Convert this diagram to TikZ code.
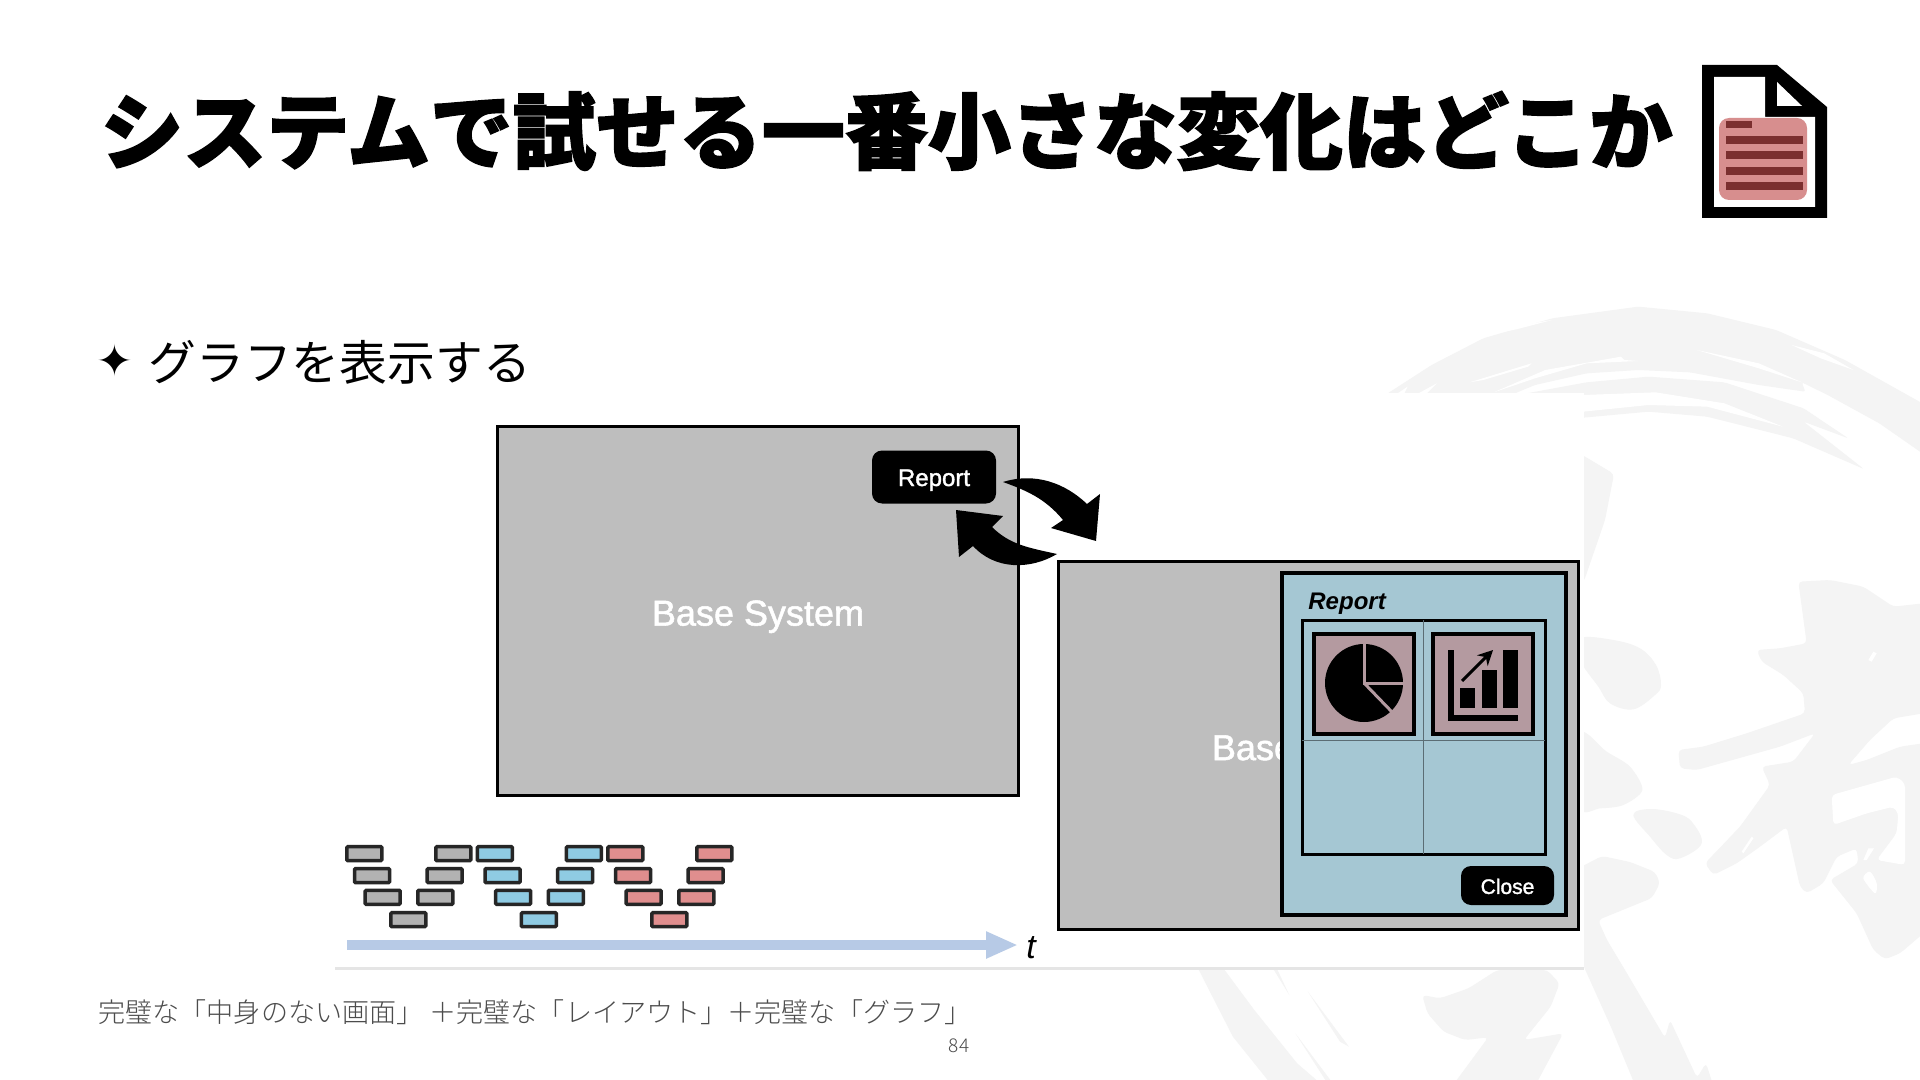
\documentclass[tikz,border=0pt]{standalone}
\usepackage{fontspec}
\usetikzlibrary{arrows.meta,calc,positioning}
\setmainfont{Liberation Sans}
\newfontfamily\uifont[FakeBold=1.5]{Liberation Sans}
\newfontfamily\jpblack[FakeBold=2]{Noto Sans CJK JP Black}
\newfontfamily\jplight{Noto Sans CJK JP Light}
\newfontfamily\jpnormal{Noto Sans CJK JP}
\newfontfamily\symfont{DejaVu Sans}
\definecolor{wmgray}{RGB}{244,244,244}
\definecolor{screengray}{RGB}{190,190,190}
\definecolor{panelblue}{RGB}{165,199,211}
\definecolor{tilerose}{RGB}{180,154,160}
\definecolor{tickgray}{RGB}{178,178,178}
\definecolor{tickblue}{RGB}{143,203,227}
\definecolor{tickred}{RGB}{224,142,142}
\definecolor{axisblue}{RGB}{183,202,230}
\definecolor{docred}{RGB}{215,142,142}
\definecolor{docdark}{RGB}{123,47,47}
\tikzset{
  rectbox/.style={draw=black,inner sep=0pt,outer sep=0pt,anchor=center},
  btn/.style={fill=black,text=white,rounded corners=5pt,inner sep=0pt,outer sep=0pt},
  tick/.style={draw=black!85,line width=1.75pt,rounded corners=.5pt,minimum width=17.5pt,minimum height=7pt,inner sep=0pt},
  tile/.style={rectbox,fill=tilerose,line width=1.75pt,minimum width=50pt,minimum height=50pt},
  wmark/.style={fill=wmgray,draw=none},
  streak/.style={fill=white,draw=none},
}
\begin{document}
\begin{tikzpicture}[x=.5pt,y=-.5pt]
  \useasboundingbox (0,0) rectangle (1920,1080);
  \fill[white] (0,0) rectangle (1920,1080);
  % watermark, ring at the top
  \begin{scope}[shift={(1380,295)},xscale=1/2.904,yscale=1/3]
    \fill[wmark,rounded corners=1pt] (15,300) -- (150,210) -- (300,130) -- (500,70) -- (750,35) -- (950,55) -- (1150,105) -- (1350,195) -- (1575,325) -- (1575,475) -- (1450,385) -- (1300,300) -- (1225,262) -- (1235,290) -- (1100,270) -- (900,232) -- (750,225) -- (600,235) -- (450,270) -- (380,300) -- cycle;
    \fill[wmark,rounded corners=1pt] (400,300) -- (600,262) -- (780,245) -- (1000,262) -- (1230,340) -- (1360,430) -- (1230,380) -- (1405,522) -- (1200,430) -- (950,365) -- (780,350) -- (590,368) -- (400,380) -- cycle;
    \fill[streak] (590,300) -- (800,292) -- (1000,325) -- (1170,395) -- (950,335) -- (780,330) -- (590,350) -- cycle;
    \fill[streak] (270,130) -- (400,92) -- (500,75) -- (400,102) -- cycle;
    \fill[streak] (260,262) -- (440,205) -- (430,215) -- (300,255) -- cycle;
    \fill[streak] (330,292) -- (480,225) -- (700,185) -- (710,195) -- (750,198) -- (600,205) -- (450,250) -- cycle;
    \fill[streak] (920,165) -- (1100,205) -- (1225,262) -- (1100,220) -- cycle;
    \fill[streak] (1195,150) -- (1290,175) -- (1375,225) -- (1280,190) -- cycle;
    \fill[streak] (50,296) -- (80,275) -- (70,296) -- cycle;
    \fill[streak] (110,296) -- (165,265) -- (135,296) -- cycle;
  \end{scope}
  \fill[wmark,rounded corners=2pt] (1575,452) -- (1584,456) -- (1614,474) -- (1605,520) -- (1584,581) -- (1575,590) -- cycle;
  % watermark, brush strokes on the right
  \begin{scope}[shift={(1580,570)},scale=1/3]
    \fill[wmark] plot[smooth cycle,tension=.6] coordinates {(0,205) (100,210) (180,235) (228,285) (243,345) (225,375) (160,418) (90,400) (55,350) (0,270)};
    \fill[wmark] plot[smooth cycle,tension=.5] coordinates {(0,490) (80,545) (150,590) (187,660) (130,705) (60,715) (0,712)};
    \fill[wmark] plot[smooth cycle,tension=.6] coordinates {(160,735) (210,717) (290,730) (335,755) (365,820) (300,865) (260,855) (210,800)};
    \fill[wmark,rounded corners=2pt] (655,35) -- (750,30) -- (850,50) -- (940,110) -- (1030,100) -- (1030,430) -- (940,445) -- (870,510) -- (805,585) -- (860,570) -- (960,530) -- (1030,520) -- (1030,1090) -- (960,1150) -- (915,1168) -- (880,1140) -- (830,1030) -- (750,930) -- (835,880) -- (830,835) -- (770,860) -- (730,940) -- (680,970) -- (660,950) -- (620,770) -- (540,830) -- (470,880) -- (400,915) -- (375,880) -- (480,770) -- (570,645) -- (545,590) -- (640,575) -- (705,490) -- (600,530) -- (350,600) -- (300,595) -- (295,540) -- (370,530) -- (500,490) -- (675,430) -- (670,370) -- (610,315) -- (545,275) -- (530,240) -- (600,235) -- (680,220) -- cycle;
    \fill[streak,rounded corners=2pt] (755,675) -- (950,620) -- (975,640) -- (975,885) -- (890,870) -- (950,790) -- (955,730) -- (940,710) -- (860,730) -- (760,765) -- cycle;
    \fill[streak] (850,870) -- (865,835) -- (882,835) -- (860,870) -- cycle;
    \fill[streak] plot[smooth cycle] coordinates {(850,925) (870,905) (890,940) (885,970)};
    \fill[streak] (865,270) -- (880,245) -- (890,250) -- (875,275) -- cycle;
    \fill[streak] (485,845) -- (515,800) -- (520,805) -- (490,850) -- cycle;
  \end{scope}
  % watermark, strokes running off the bottom
  \fill[wmark,rounded corners=2pt] (1575,870) -- (1602,856) -- (1630,862) -- (1655,872) -- (1660,883) -- (1652,898) -- (1598,920) -- (1607,940) -- (1625,970) -- (1665,1038) -- (1670,1020) -- (1697,1078) -- (1706,1063) -- (1713,1085) -- (1635,1085) -- (1611,1027) -- (1584,967) -- (1575,950) -- cycle;
  \begin{scope}[shift={(1190,950)},xscale=1/2.8,yscale=1/3]
    \fill[wmark] (20,50) -- (90,50) -- (180,180) -- (300,340) -- (365,400) -- (225,400) -- (120,260) -- cycle;
    \fill[wmark] (235,60) -- (245,60) -- (278,135) -- cycle;
    \fill[wmark] (330,125) -- (445,290) -- (420,275) -- cycle;
    \fill[wmark] (295,250) -- (400,400) -- (385,400) -- cycle;
    \fill[wmark,rounded corners=2pt] (650,135) -- (700,145) -- (780,115) -- (860,60) -- (1000,60) -- (1035,100) -- (1010,170) -- (935,270) -- (1045,250) -- (970,400) -- (740,400) -- (835,262) -- (770,270) -- (710,245) -- (665,190) -- cycle;
  \end{scope}
  % pasted figure area
  \fill[white] (300,393) rectangle (1584,968);
  \draw[black!10,line width=1.5pt] (335,968) -- (1584,968);

  \node[anchor=west,inner sep=0pt,font={\jpblack\fontsize{41.5pt}{48pt}\selectfont}] (title) at (100,131) {システムで試せる一番小さな変化はどこか};
  \node[anchor=center,inner sep=0pt,font={\symfont\fontsize{22pt}{24pt}\selectfont}] (bullet) at (115,360) {✦};
  \node[anchor=west,inner sep=0pt,font={\jpnormal\fontsize{23.9pt}{28pt}\selectfont}] (subtitle) at (148,362) {グラフを表示する};
  \node[anchor=west,inner sep=0pt,text=black!70,font={\jplight\fontsize{13.55pt}{16pt}\selectfont}] (note) at (98,1012) {完璧な「中身のない画面」 ＋完璧な「レイアウト」＋完璧な「グラフ」};
  \node[inner sep=0pt,text=black!70,font={\jplight\fontsize{9.5pt}{11pt}\selectfont}] (page) at (959,1046) {84};

  % document icon
  \fill[black] (1702,65) -- (1777,65) -- (1827,107) -- (1827,218) -- (1702,218) -- cycle;
  \fill[white] (1714,77) -- (1765,77) -- (1765,117) -- (1815,117) -- (1815,207) -- (1714,207) -- cycle;
  \fill[white] (1777,82) -- (1777,106) -- (1802,106) -- cycle;
  \fill[docred,rounded corners=5pt] (1719,118) rectangle (1807,200);
  \fill[docdark] (1726,121) rectangle (1752,128);
  \foreach \y in {136,151,167,182}
    \fill[docdark] (1726,\y) rectangle (1803,\y+8);

  % base system
  \node[rectbox,fill=screengray,line width=1.5pt,text=white,text height=18.3pt,font=\uifont\fontsize{18pt}{21pt}\selectfont,minimum width=260.5pt,minimum height=184.5pt] (screenA) at (758,611) {Base System};
  \node[btn,minimum width=62pt,minimum height=26.5pt,text height=11.5pt,font=\uifont\fontsize{12pt}{14pt}\selectfont] (reportBtn) at (934,477) {Report};

  % system with report open
  \node[rectbox,fill=screengray,line width=1.5pt,text=white,text height=18.3pt,font=\uifont\fontsize{18pt}{21pt}\selectfont,minimum width=260pt,minimum height=184pt] (screenB) at (1318,745.5) {Base System};
  \node[rectbox,fill=panelblue,line width=1.75pt,minimum width=142pt,minimum height=171pt] (panel) at (1424,744) {};
  \node[inner sep=0pt,anchor=west,font=\fontsize{12pt}{14pt}\selectfont\bfseries\itshape] (panelTitle) at (1308,604) {Report};
  \node[rectbox,line width=1.5pt,minimum width=121.5pt,minimum height=117pt] (grid) at (1423.5,737) {};
  \draw[black!45!panelblue,line width=.5pt] (grid.north) -- (grid.south);
  \draw[black!45!panelblue,line width=.5pt] (grid.west |- 0,740) -- (grid.east |- 0,740);
  \node[tile] (pieTile) at (1364,684) {};
  \node[tile] (chartTile) at (1483,684) {};
  \node[btn,minimum width=46.5pt,minimum height=19.5pt,text height=8.5pt,font=\uifont\fontsize{10.5pt}{12pt}\selectfont] (closeBtn) at (1507.5,885.5) {Close};

  % pie icon
  \fill[black] (pieTile.center) ++(0,-1) circle (39);
  \draw[tilerose,line width=1.5pt] (1364,644) -- (1364,683) -- (1404,683);
  \draw[tilerose,line width=1.5pt] (1364,683) -- (1392,712);

  % chart icon
  \fill[black] (1448,650) rectangle (1454,721);
  \fill[black] (1448,715) rectangle (1518,721);
  \fill[black] (1460,688) rectangle (1475,708);
  \fill[black] (1482,670) rectangle (1497,708);
  \fill[black] (1503,650) rectangle (1518,708);
  \draw[-{Stealth[length=7.5pt,width=7.5pt]},line width=1.5pt] (1462,681) -- (1493,650);

  % swap arrows
  \fill[black] (1003,482) .. controls (1035,472) and (1065,483) .. (1087,504) -- (1100,494) -- (1096,541) -- (1051,528) -- (1063,520) .. controls (1045,498) and (1025,490) .. (1003,482) -- cycle;
  \fill[black] (1057,554) .. controls (1030,570) and (995,570) .. (973,546) -- (959,557) -- (956,510) -- (1003,516) -- (992,527) .. controls (1010,545) and (1030,548) .. (1057,554) -- cycle;

  % release ticks
  \foreach \col [count=\i from 0] in {tickgray,tickblue,tickred} {
    \foreach \xa/\ya [count=\j] in {364.3/853.7,453.3/853.7,372/875.7,444.7/875.7,382.7/897.3,435.3/897.3,408.3/919.7}
      \node[tick,fill=\col] (tick\i\j) at (\xa+\i*130.5,\ya) {};
  }
  \coordinate (axisStart) at (347,945);
  \coordinate (axisEnd) at (1018,945);
  \draw[-{Triangle[length=16pt,width=12.5pt]},axisblue,line width=4.75pt] (axisStart) -- (axisEnd);
  \node[inner sep=0pt,font=\fontsize{17pt}{20pt}\selectfont\itshape] (timeLabel) at (1031,948) {t};
\end{tikzpicture}
\end{document}
